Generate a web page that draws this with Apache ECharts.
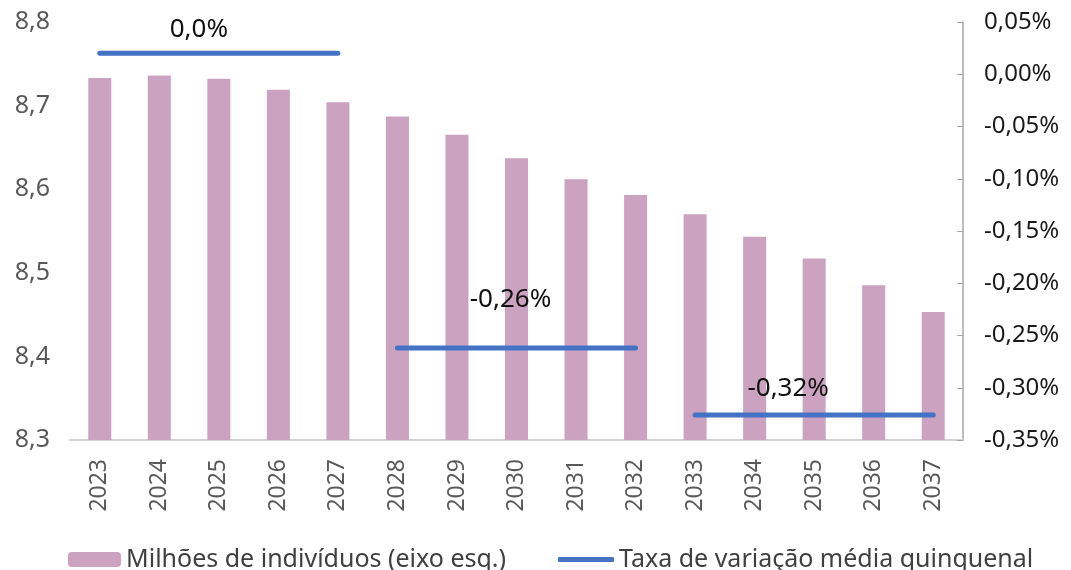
<!DOCTYPE html>
<html>
<head>
<meta charset="utf-8">
<script src="https://cdn.jsdelivr.net/npm/echarts@6/dist/echarts.min.js"></script>
<style>
html,body{margin:0;padding:0;background:#fff;}
#chart{width:1071px;height:570px;}
</style>
</head>
<body>
<div id="chart"></div>
<script>
// dados
var anos = ['2023','2024','2025','2026','2027','2028','2029','2030','2031','2032','2033','2034','2035','2036','2037'];
var individuos = [8.733, 8.736, 8.732, 8.719, 8.704, 8.687, 8.665, 8.637, 8.612, 8.593, 8.570, 8.543, 8.517, 8.485, 8.453];
// taxa média por quinquénio (em %)
var taxaQuinquenal = [0.02, -0.262, -0.326];
var taxaLabels = ['0,0%', '-0,26%', '-0,32%'];
var labelOffsets = [[-20, -6], [-6, -30], [-26, -8]];

var nomeBarra = 'Milhões de indivíduos (eixo esq.)';
var nomeLinha = 'Taxa de variação média quinquenal';
var fonte = '"Noto Sans", "Open Sans", sans-serif';

var chart = echarts.init(document.getElementById('chart'));

// uma série de linha por quinquénio, para não ligar os segmentos
var linhas = taxaQuinquenal.map(function (v, k) {
    var data = anos.map(function (a, i) {
        return Math.floor(i / 5) == k ? v : '-';
    });
    data[k * 5 + 2] = {
        value: v,
        label: {
            show: true,
            position: 'top',
            offset: labelOffsets[k],
            formatter: taxaLabels[k],
            color: '#111',
            fontSize: 26,
            fontFamily: fonte
        }
    };
    return {
        name: nomeLinha,
        type: 'line',
        yAxisIndex: 1,
        data: data,
        symbol: 'circle',
        symbolSize: 0,
        showSymbol: true,
        silent: true,
        lineStyle: { color: '#4472C4', width: 5, cap: 'round' },
        itemStyle: { color: '#4472C4' }
    };
});

var option = {
    animation: false,
    grid: { left: 70, right: 108, top: 22, bottom: 130 },
    legend: [{
        data: [nomeBarra],
        left: 63,
        top: 542,
        itemWidth: 53,
        itemHeight: 15,
        textStyle: { fontSize: 25, color: '#404040', fontFamily: fonte }
    }, {
        data: [{ name: nomeLinha, icon: 'roundRect' }],
        left: 553,
        top: 542,
        itemWidth: 56,
        itemHeight: 5,
        textStyle: { fontSize: 25, color: '#404040', fontFamily: fonte }
    }],
    xAxis: {
        type: 'category',
        data: anos,
        axisLine: { onZero: false, lineStyle: { color: '#d0d0d0', width: 2 } },
        axisTick: { show: false },
        axisLabel: {
            rotate: 90,
            margin: 19,
            fontSize: 23,
            color: '#595959',
            fontFamily: fonte
        }
    },
    yAxis: [{
        type: 'value',
        min: 8.3,
        max: 8.8,
        interval: 0.1,
        splitLine: { show: false },
        axisLine: { show: false },
        axisTick: { show: false },
        axisLabel: {
            margin: 20,
            fontSize: 25,
            color: '#595959',
            fontFamily: fonte,
            formatter: function (v) { return v.toFixed(1).replace('.', ','); }
        }
    }, {
        type: 'value',
        position: 'right',
        min: -0.35,
        max: 0.05,
        interval: 0.05,
        splitLine: { show: false },
        axisLine: { show: true, lineStyle: { color: '#a6a6a6', width: 1.5 } },
        axisTick: { show: true, inside: true, length: 6, lineStyle: { color: '#a6a6a6' } },
        axisLabel: {
            margin: 21,
            fontSize: 24,
            color: '#1a1a1a',
            fontFamily: fonte,
            formatter: function (v) { return v.toFixed(2).replace('.', ',') + '%'; }
        }
    }],
    series: [{
        name: nomeBarra,
        type: 'bar',
        data: individuos,
        barWidth: 23,
        itemStyle: { color: '#CBA3C1' }
    }].concat(linhas)
};

chart.setOption(option);
</script>
</body>
</html>
